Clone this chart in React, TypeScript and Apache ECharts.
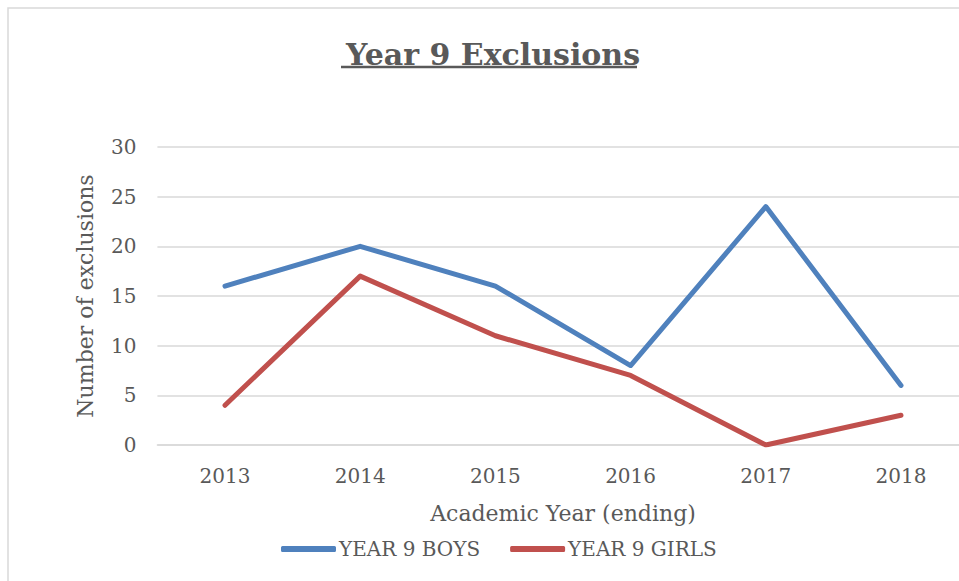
import React, { useEffect, useRef } from "react";
import * as echarts from "echarts";

const categories = ["2013", "2014", "2015", "2016", "2017", "2018"];
const boys = [16, 20, 16, 8, 24, 6];
const girls = [4, 17, 11, 7, 0, 3];
const seriesNames = ["YEAR 9 BOYS", "YEAR 9 GIRLS"];
const titleText = "Year 9 Exclusions";
const xName = "Academic Year (ending)";
const yName = "Number of exclusions";

const FONT = "'DejaVu Serif', serif";
const TXT = "#595959";
const GRID = "#d9d9d9";

export default function App() {
  const ref = useRef<HTMLDivElement>(null);
  useEffect(() => {
    if (!ref.current) return;
    const chart = echarts.init(ref.current, null, { renderer: "svg" });
    chart.setOption({
      animation: false,
      backgroundColor: "#ffffff",
      textStyle: { fontFamily: FONT, color: TXT },
      title: {
        text: titleText,
        left: 488,
        textAlign: "center",
        top: 34,
        textStyle: { fontFamily: FONT, fontSize: 30, fontWeight: "bold", color: TXT },
      },
      graphic: [
        {
          type: "rect",
          shape: { x: 8, y: 8, width: 1200, height: 1000 },
          style: { fill: "none", stroke: GRID, lineWidth: 1.5 },
          silent: true,
        },
        {
          type: "line",
          shape: { x1: 341, y1: 67, x2: 637, y2: 67 },
          style: { stroke: TXT, lineWidth: 2.5 },
          silent: true,
        },
      ],
      grid: { left: 157.4, top: 147, right: 31.4, bottom: 136, containLabel: false },
      legend: {
        data: seriesNames,
        left: 276,
        top: 534,
        icon: "roundRect",
        itemWidth: 55,
        itemHeight: 6,
        itemGap: 30,
        textStyle: { fontFamily: FONT, fontSize: 20, color: TXT, padding: [0, 0, 0, -2] },
      },
      xAxis: {
        type: "category",
        data: categories,
        boundaryGap: true,
        name: xName,
        nameLocation: "middle",
        nameGap: 57,
        nameTextStyle: { fontFamily: FONT, fontSize: 22, color: TXT },
        axisLine: { show: true, lineStyle: { color: GRID, width: 1.5 } },
        axisTick: { show: false },
        axisLabel: { fontFamily: FONT, fontSize: 20, color: TXT, margin: 21 },
        splitLine: { show: false },
      },
      yAxis: {
        type: "value",
        min: 0,
        max: 30,
        interval: 5,
        name: yName,
        nameLocation: "middle",
        nameGap: 61,
        nameTextStyle: { fontFamily: FONT, fontSize: 22, color: TXT },
        axisLine: { show: false },
        axisTick: { show: false },
        axisLabel: { fontFamily: FONT, fontSize: 20, color: TXT, margin: 21 },
        splitLine: { show: true, lineStyle: { color: GRID, width: 1.5 } },
      },
      series: [
        {
          name: seriesNames[0],
          type: "line",
          data: boys,
          symbol: "none",
          color: "#4f81bd",
          lineStyle: { width: 5, color: "#4f81bd", cap: "round", join: "round" },
        },
        {
          name: seriesNames[1],
          type: "line",
          data: girls,
          symbol: "none",
          color: "#c0504d",
          lineStyle: { width: 5, color: "#c0504d", cap: "round", join: "round" },
        },
      ],
    });
    return () => chart.dispose();
  }, []);
  return (
    <div style={{ position: "fixed", left: 0, top: 0, width: 959, height: 581, overflow: "hidden", background: "#fff" }}>
      <div ref={ref} style={{ position: "absolute", left: 0, top: 0, width: 1000, height: 581 }} />
    </div>
  );
}
